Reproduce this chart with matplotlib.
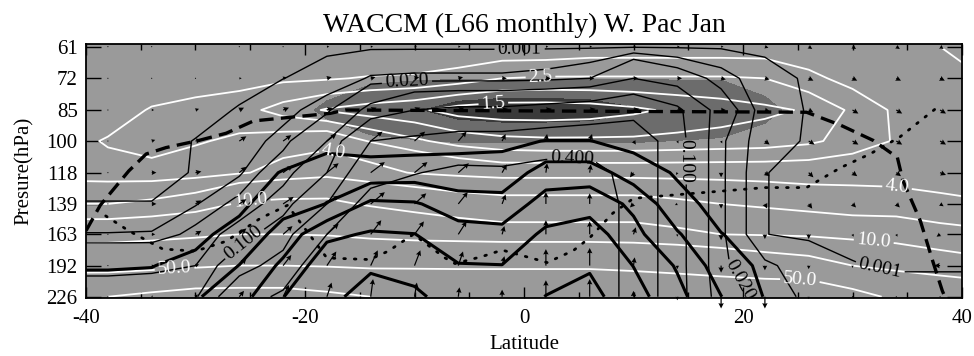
import numpy as np
import matplotlib
matplotlib.use("Agg")
import matplotlib.pyplot as plt

plt.rcParams['font.family'] = ['Liberation Serif', 'DejaVu Serif']
plt.rcParams['axes.unicode_minus'] = False

# ---------------- data ----------------
lat_grid = [-42, -38, -34, -30, -26, -22, -18, -14, -10, -6, -2, 2, 6, 10, 14, 18, 22, 26, 30, 34, 38, 42]
pressure = [61, 72, 85, 100, 118, 139, 163, 192, 226]

# white contours (water vapour, ppmv)
h2o = [
    [4.0, 3.9, 3.8, 3.7, 3.6, 3.6, 3.6, 3.6, 3.6, 3.5, 3.4, 3.4, 3.3, 3.3, 3.3, 3.3, 3.3, 3.4, 3.6, 3.8, 4.0, 4.2],
    [3.6, 3.5, 3.4, 3.3, 3.2, 3.1, 3.05, 2.95, 2.9, 2.75, 2.5, 2.45, 2.45, 2.45, 2.45, 2.45, 2.5, 2.85, 3.2, 3.5, 3.8, 4.0],
    [3.6, 3.3, 2.95, 2.8, 2.7, 2.3, 1.95, 1.75, 1.6, 1.3, 1.2, 1.2, 1.25, 1.4, 1.6, 1.75, 1.9, 2.05, 2.6, 3.1, 3.5, 3.8],
    [3.2, 2.95, 2.92, 2.95, 3.1, 3.3, 3.5, 2.95, 2.6, 2.3, 2.15, 2.1, 2.1, 2.1, 2.15, 2.2, 2.25, 2.4, 2.7, 3.05, 3.5, 3.9],
    [3.3, 3.2, 3.07, 3.3, 3.8, 4.6, 5.2, 4.5, 3.9, 3.6, 3.4, 3.4, 3.4, 3.4, 3.4, 3.4, 3.4, 3.4, 3.45, 3.5, 3.45, 3.4],
    [6.0, 6.0, 6.5, 7.5, 10.5, 11.0, 11.0, 9.5, 8.5, 7.5, 7.0, 7.0, 7.0, 7.0, 6.5, 6.0, 5.5, 5.0, 4.8, 4.6, 4.3, 4.1],
    [14, 14, 15, 17, 20, 20, 19, 16, 14, 13, 12, 12, 12, 12, 11, 10, 9.5, 9, 8, 8, 7.0, 6.5],
    [35, 36, 40, 45, 50, 50, 48, 45, 45, 45, 45, 45, 45, 42, 38, 33, 28, 25, 20, 15, 13, 11.5],
    [100, 100, 110, 120, 120, 120, 110, 100, 95, 90, 90, 90, 90, 88, 85, 82, 80, 80, 60, 45, 35, 30],
]
h2o_levels = [1.5, 2.0, 2.5, 3.0, 4.0, 6.0, 10.0, 20.0, 50.0, 100.0]

# thin black contours
cloud = [
    [0, 0, 0, 0, 0, 0, 0, 0, 0, 0, 0, 0, 0, 0, 0, 0, 0, 0, 0, 0, 0, 0],
    [0, 0, 0, 0, 0, 0.0009, 0.0033, 0.011, 0.012, 0.012, 0.012, 0.014, 0.02, 0.05, 0.03, 0.015, 0.003, 0.0003, 0, 0, 0, 0],
    [0, 0, 0, 0, 0.0012, 0.006, 0.016, 0.06, 0.1, 0.11, 0.11, 0.12, 0.13, 0.15, 0.11, 0.03, 0.004, 0.0006, 0, 0, 0, 0],
    [0, 0, 0, 0.0011, 0.004, 0.014, 0.05, 0.2, 0.22, 0.24, 0.24, 0.26, 0.28, 0.3, 0.12, 0.022, 0.003, 0.0005, 0, 0, 0, 0],
    [0, 0, 0, 0.0012, 0.008, 0.034, 0.1, 0.3, 0.39, 0.45, 0.44, 0.5, 0.5, 0.3, 0.12, 0.022, 0.0011, 0, 0, 0, 0, 0],
    [0.0011, 0.0011, 0.0011, 0.009, 0.025, 0.072, 0.2, 0.5, 0.55, 0.6, 0.6, 0.6, 0.6, 0.3, 0.12, 0.022, 0.0011, 0, 0, 0, 0, 0],
    [0.0105, 0.0105, 0.011, 0.025, 0.07, 0.144, 0.4, 0.7, 0.7, 0.7, 0.7, 0.65, 0.6, 0.3, 0.12, 0.022, 0.0011, 0, 0, 0, 0, 0],
    [0.045, 0.045, 0.045, 0.05, 0.15, 0.254, 0.6, 0.9, 0.85, 0.8, 0.8, 0.7, 0.6, 0.3, 0.12, 0.022, 0.012, 0.005, 0.0012, 0.0005, 0.0005, 0.0005],
    [0.06, 0.06, 0.065, 0.09, 0.3, 0.44, 0.8, 1.0, 0.95, 0.85, 0.85, 0.75, 0.6, 0.3, 0.12, 0.03, 0.015, 0.008, 0.004, 0.003, 0.003, 0.003],
]
cloud_levels = [0.001, 0.01, 0.02, 0.05, 0.1, 0.2, 0.4]

# thick black contours
heating = [
    [0] * 22,
    [0] * 22,
    [0] * 22,
    [0.2, 0.2, 0.2, 0.2, 0.2, 0.4, 0.6, 0.6, 0.6, 0.8, 0.85, 1.02, 1.02, 0.7, 0.5, 0.3, 0.2, 0.2, 0.2, 0.2, 0.2, 0.2],
    [0.3, 0.3, 0.3, 0.3, 0.6, 1.05, 1.63, 1.4, 1.5, 1.3, 1.3, 2.5, 2.5, 1.5, 0.9, 0.5, 0.3, 0.2, 0.2, 0.2, 0.2, 0.2],
    [0.4, 0.4, 0.4, 0.5, 0.8, 1.6, 2.02, 3.2, 3.1, 2.5, 2.4, 3.4, 3.6, 2.8, 1.3, 0.7, 0.5, 0.2, 0.2, 0.2, 0.2, 0.2],
    [0.6, 0.6, 0.6, 0.8, 1.3, 2.4, 3.8, 4.1, 4.02, 3.4, 3.3, 4.2, 4.5, 3.3, 2.1, 1.02, 0.7, 0.2, 0.2, 0.2, 0.2, 0.2],
    [0.95, 0.95, 0.98, 1.2, 2.02, 3.2, 4.6, 4.9, 4.6, 4.05, 4.02, 4.6, 4.9, 3.98, 2.9, 1.5, 0.8, 0.2, 0.2, 0.2, 0.2, 0.2],
    [1.3, 1.3, 1.3, 1.9, 2.6, 3.98, 4.8, 5.3, 5.2, 4.5, 4.4, 5.02, 5.3, 4.4, 3.3, 2.02, 0.95, 0.3, 0.2, 0.2, 0.2, 0.2],
]
heating_levels = [1, 2, 3, 4, 5]

# grey shading
shade = [
    [0] * 22,
    [0.3, 0.3, 0.3, 0.3, 0.3, 0.3, 0.5, 0.8, 0.92, 0.95, 0.95, 0.95, 0.95, 0.95, 0.95, 0.95, 0.6, 0.3, 0.3, 0.3, 0.3, 0.3],
    [0.3, 0.3, 0.3, 0.3, 0.3, 0.5, 1.2, 1.8, 1.9, 2.4, 2.6, 2.6, 2.5, 2.1, 1.85, 1.8, 1.3, 0.5, 0.3, 0.3, 0.3, 0.3],
    [0.3, 0.3, 0.3, 0.3, 0.3, 0.3, 0.5, 0.8, 0.95, 1.05, 1.05, 1.05, 1.05, 1.05, 0.98, 0.9, 0.6, 0.3, 0.3, 0.3, 0.3, 0.3],
    [0] * 22,
    [0] * 22,
    [0] * 22,
    [0] * 22,
    [0] * 22,
]
shade_levels = [1.0, 2.0, 10.0]

# vectors
vec_lat = [-38, -34, -30, -26, -22, -18, -14, -10, -6, -2, 2, 6, 10, 14, 18, 22, 26, 30, 34, 38]
u_vec = [
    [1, 1, 1, 1, 1, 2, 2, 2, 2, 2, 2, 2, 2, 2, 2, 3, 3, 3, 3, 3],
    [1, 1, 1, 2, 3, 4, 4, 4, 4, 4, 4, 4, 4, 4, 4, 4, 4, 4, 4, 4],
    [1, 2, 3, 4, 5, 5, 5, 5, 5, 5, 5, 5, 5, 5, 4, 4, 4, 5, 5, 5],
    [1, 3, 5, 6, 7, 8, 10, 9, 7, 3, 1, 2, 2, 1, 1, 4, 5, 5, 5, 5],
    [1, 4, 5, 6, 8, 10, 12, 11, 9, 4, 1, 1, -3, -1, 0, 4, 4, 4, 4, 5],
    [1, 4, 5, 6, 9, 10, 12, 10, 8, 3, 0, 0, -3, -2, 0, 2, 3, 3, 3, 3],
    [1, 3, 5, 6, 8, 10, 9, 8, 7, 2, 0, 0, 2, 0, 0, 0, 0, 1, 1, -3],
    [1, 2, 3, 6, 7, 8, 6, 5, 4, 2, 0, 0, 1, 0, 0, 0, 0, 0, 0, -5],
    [1, 1, 2, 4, 5, 4, 2, 2, 1, 0, 0, 0, 0, 0, 0, 0, 0, 0, 0, 0],
]
w_vec = [
    [0, 0, 0, 0, 0, 0, 0, 0, 0, 0, 0, 0, 0, 0, 0, -1, -2, -2, -2, -2],
    [0, 0, 0, 0, 1, 1, 1, 1, 1, 0, 0, 0, 0, 0, -1, -1, -2, -2, -2, -2],
    [0, 0, 1, 2, 2, 2, 2, 2, 2, 1, 1, 1, 1, 0, 0, -1, -2, -3, -3, -3],
    [0, 1, 1, 4, 5, 6, 8, 8, 8, 6, 6, 6, -3, -2, -2, -3, -3, -3, -3, -3],
    [0, 0, 1, 5, 6, 8, 9, 9, 8, 7, 8, 7, -4, -2, -4, -3, -4, -3, -3, -2],
    [0, 0, 3, 4, 6, 7, 10, 9, 10, 8, 10, 9, -3, -1, -4, -4, -4, -3, -3, -2],
    [0, 0, 3, 5, 7, 9, 12, 11, 11, 7, 12, 11, 6, -2, -5, -4, -4, -2, -2, -2],
    [0, 0, 1, 6, 9, 12, 13, 13, 12, 8, 14, 15, 7, -3, -6, -4, -3, -2, -1, 0],
    [0, 1, 2, 5, 10, 12, 15, 12, 8, 6, 14, 15, 5, -3, -10, -10, -2, -1, -1, -1],
]

# tropopause (dashed) and second tropopause (dotted)
trop_lat = [-40, -38.7, -36.1, -34.5, -32.7, -29.7, -27.2, -24.7, -17.7, -16.3, 25.8, 28.9, 31.9, 34.1, 34.6, 36.2, 37.4, 38.2, 38.5]
trop_p = [160, 140, 117, 107, 103.5, 99.7, 96, 90, 86.5, 85, 86, 92, 99.7, 109, 123, 152, 190, 219, 228]
cpt_lat = [-38.2, -36.1, -33, -30, -27.2, -24.1, -21.6, -18, -14.1, -12.4, -10.1, -7.2, -6.3, -3.8, -2.0, 1.5, 2.1,
           4.5, 6.0, 8.1, 10, 14.7, 22, 25.8, 28.9, 31.6, 34.3, 37.7]
cpt_p = [148, 160, 176, 178, 169, 150, 140, 184.5, 186, 178, 163, 184.5, 190, 183, 177, 187, 189,
         177.5, 166, 146, 135, 132, 127.6, 127.6, 115, 107, 98, 84]

# label anchor points (lat, hPa) for labelled contour levels
white_labels = {1.5: [(-2.8, 82.1)], 2.5: [(1.5, 70.9)], 4.0: [(-17.3, 104), (34.1, 126)],
                10.0: [(-25, 133), (31.9, 173)], 50.0: [(-31.9, 197.6), (25.2, 208)]}
black_labels = {0.001: [(-0.4, 61.8), (32.5, 195)], 0.02: [(-10.7, 72.7), (20.0, 205)],
                0.1: [(-26.1, 164), (15.2, 111)], 0.4: [(4.4, 106.8)]}


def zp(p):
    # vertical coordinate: -ln(p), so pressure decreases upward on a log scale
    return -np.log(np.asarray(p, dtype=float))


# ---------------- plot ----------------
fig = plt.figure(figsize=(9.74, 3.56), dpi=100)
ax = fig.add_axes([86 / 974, 58 / 356, 876 / 974, 254.5 / 356])
ax.set_facecolor('#9a9a9a')

X = np.array(lat_grid, dtype=float)
Y = zp(pressure)

ax.contourf(X, Y, np.array(shade), levels=shade_levels, colors=['#6c6c6c', '#3a3a3a'],
            antialiased=False, zorder=1)


def draw_set(field, levels, labels, color, lw, fmt):
    Z = np.array(field, dtype=float)
    plain = [l for l in levels if l not in labels]
    if plain:
        ax.contour(X, Y, Z, levels=plain, colors=color, linewidths=lw, zorder=3)
    for lev, pos in labels.items():
        cs = ax.contour(X, Y, Z, levels=[lev], colors=color, linewidths=lw, zorder=3)
        ax.clabel(cs, manual=[(x, zp(p)) for x, p in pos], fmt=fmt,
                  fontsize=14, colors=color, inline=True, inline_spacing=2)


draw_set(h2o, h2o_levels, white_labels, 'white', 1.3, '%.1f')
draw_set(cloud, cloud_levels, black_labels, 'black', 1.0, '%.3f')
draw_set(heating, heating_levels, {}, 'black', 2.2, '%.1f')

ax.plot(trop_lat, zp(trop_p), color='black', lw=2.4, dashes=(4.3, 2.2), zorder=4)
ax.plot(cpt_lat, zp(cpt_p), color='black', lw=2.0, linestyle=(0, (0.6, 3.2)),
        dash_capstyle='round', zorder=4)

VX, VY = np.meshgrid(np.array(vec_lat, dtype=float), Y)
ax.quiver(VX, VY, np.array(u_vec, dtype=float), np.array(w_vec, dtype=float),
          angles='uv', scale_units='dots', scale=0.85, units='dots', width=1.2,
          headwidth=4.5, headlength=4.5, headaxislength=4, pivot='tail', color='black',
          zorder=5, clip_on=False)

ax.set_xlim(-40, 40)
ax.set_ylim(zp(227.5), zp(60.0))
ax.set_xticks([-40, -20, 0, 20, 40])
ax.set_xticklabels(['-40', '-20', '0', '20', '40'])
ax.set_xticks([-35, -30, -25, -15, -10, -5, 5, 10, 15, 25, 30, 35], minor=True)
ax.set_yticks(Y)
ax.set_yticklabels([str(p) for p in pressure])
ax.tick_params(axis='x', which='major', direction='in', length=8, width=1, top=True, labelsize=15, pad=8)
ax.tick_params(axis='x', which='minor', direction='in', length=4, width=1, top=True)
ax.tick_params(axis='y', which='major', direction='in', length=11, width=1, right=True, labelsize=15, pad=6)
for s in ax.spines.values():
    s.set_linewidth(1.3)
    s.set_zorder(6)

ax.set_xlabel('Latitude', fontsize=15, labelpad=5)
ax.set_ylabel('Presure(hPa)', fontsize=15, labelpad=9)
ax.set_title('WACCM (L66 monthly) W. Pac Jan', fontsize=20, pad=8)

fig.savefig('out.png', dpi=100)
